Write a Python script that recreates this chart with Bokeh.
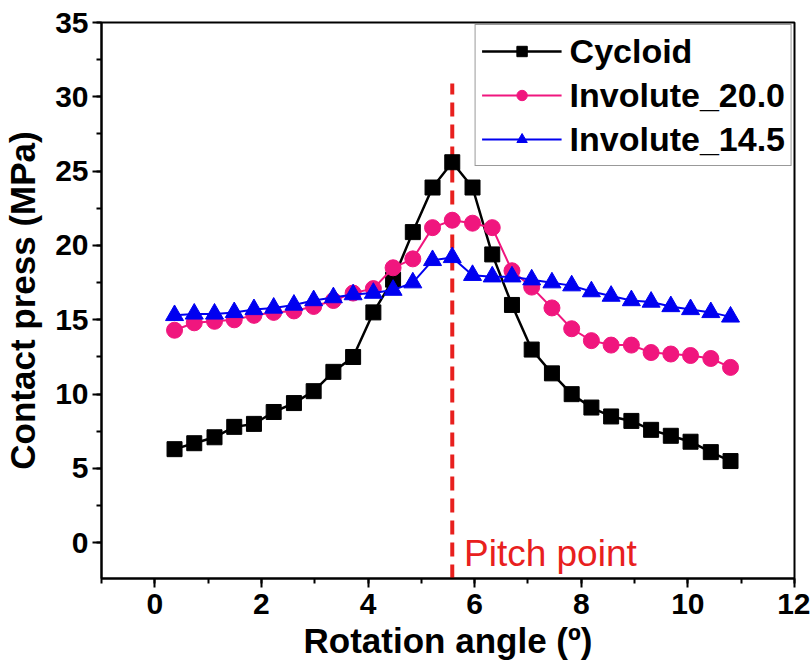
from bokeh.plotting import figure
from bokeh.models import SingleIntervalTicker, Legend, LegendItem
from bokeh.embed import file_html
from bokeh.resources import INLINE
from bokeh.core.properties import value

angle = [0.37, 0.74, 1.12, 1.49, 1.86, 2.23, 2.61, 2.98, 3.35, 3.72, 4.10, 4.47,
         4.84, 5.21, 5.58, 5.96, 6.33, 6.70, 7.07, 7.45, 7.82, 8.19, 8.56, 8.94,
         9.31, 9.68, 10.05, 10.43, 10.80]
cycloid = [6.3, 6.7, 7.1, 7.8, 8.0, 8.8, 9.4, 10.2, 11.5, 12.5, 15.5, 17.7, 20.9,
           23.9, 25.6, 23.9, 19.4, 16.0, 13.0, 11.4, 10.0, 9.1, 8.5, 8.2, 7.6, 7.2,
           6.8, 6.1, 5.5]
involute_20 = [14.3, 14.8, 14.9, 15.0, 15.3, 15.5, 15.6, 15.9, 16.3, 16.8, 17.1, 18.5,
               19.1, 21.2, 21.7, 21.5, 21.2, 18.3, 17.2, 15.8, 14.4, 13.6, 13.3, 13.3,
               12.8, 12.7, 12.6, 12.4, 11.8]
involute_145 = [15.3, 15.4, 15.4, 15.5, 15.7, 15.8, 16.0, 16.3, 16.5, 16.7, 16.8, 17.0,
                17.5, 19.0, 19.2, 18.0, 17.9, 17.9, 17.7, 17.5, 17.3, 16.9, 16.6, 16.3,
                16.2, 15.9, 15.7, 15.5, 15.2]
pitch_x = 5.58
pitch_top = 30.9
pitch_label = "Pitch point"
pitch_label_x = 5.8
pitch_label_y = -0.7
x_min, x_max = -1, 12
y_min, y_max = -2.4, 35

FONT = "Liberation Sans"

p = figure(width=810, height=670, x_range=(x_min, x_max), y_range=(y_min, y_max),
           output_backend="svg", toolbar_location=None,
           min_border_left=101, min_border_right=16, min_border_top=22,
           min_border_bottom=92)
p.xgrid.visible = False
p.ygrid.visible = False
p.outline_line_color = "black"
p.outline_line_width = 2
p.outline_line_alpha = 1

p.xaxis.ticker = SingleIntervalTicker(interval=2, num_minor_ticks=2)
p.yaxis.ticker = SingleIntervalTicker(interval=5, num_minor_ticks=2)
for ax in (p.xaxis, p.yaxis):
    ax.axis_line_width = 2
    ax.axis_line_color = "black"
    ax.major_tick_in = 0
    ax.major_tick_out = 9
    ax.minor_tick_in = 0
    ax.minor_tick_out = 5
    ax.major_tick_line_width = 2
    ax.minor_tick_line_width = 2
    ax.major_tick_line_color = "black"
    ax.minor_tick_line_color = "black"
    ax.major_label_text_font = FONT
    ax.major_label_text_font_style = "bold"
    ax.major_label_text_font_size = "30px"
    ax.major_label_text_color = "black"
    ax.axis_label_text_font = FONT
    ax.axis_label_text_font_style = "bold"
    ax.axis_label_text_font_size = "35px"
    ax.axis_label_text_color = "black"
p.xaxis.axis_label = "Rotation angle (º)"
p.yaxis.axis_label = "Contact press (MPa)"
p.xaxis.major_label_standoff = 6
p.yaxis.major_label_standoff = 4
p.xaxis.axis_label_standoff = 4
p.yaxis.axis_label_standoff = 10

# pitch line
p.segment(x0=[pitch_x], y0=[y_min], x1=[pitch_x], y1=[pitch_top],
          line_color="#E8201E", line_width=4, line_dash="14 8")
p.text(x=[pitch_label_x], y=[pitch_label_y], text=[pitch_label], text_font=value(FONT),
       text_font_size="37px", text_color="#E8201E", text_baseline="alphabetic")

BLACK = "black"
PINK = "#F0167E"
BLUE = "#0000F0"

l1 = p.line(angle, cycloid, line_color=BLACK, line_width=2.5)
s1 = p.scatter(angle, cycloid, marker="square", size=15, fill_color=BLACK, line_color=BLACK)
l2 = p.line(angle, involute_20, line_color=PINK, line_width=2)
s2 = p.scatter(angle, involute_20, marker="circle", size=16, fill_color=PINK, line_color=PINK)
l3 = p.line(angle, involute_145, line_color=BLUE, line_width=2)
s3 = p.scatter(angle, involute_145, marker="triangle", size=18, fill_color=BLUE, line_color=BLUE)

legend = Legend(items=[
    LegendItem(label="Cycloid", renderers=[l1, s1]),
    LegendItem(label="Involute_20.0", renderers=[l2, s2]),
    LegendItem(label="Involute_14.5", renderers=[l3, s3]),
], location="top_right")
legend.label_text_font = FONT
legend.label_text_font_style = "bold"
legend.label_text_font_size = "34px"
legend.label_text_color = "black"
legend.glyph_width = 80
legend.glyph_height = 26
legend.label_height = 40
legend.spacing = 4
legend.padding = 6
legend.margin = 2
legend.label_standoff = 8
legend.border_line_color = "#333333"
legend.border_line_width = 1.5
legend.background_fill_alpha = 1
p.add_layout(legend)

open("out.html", "w").write(file_html(p, INLINE))
